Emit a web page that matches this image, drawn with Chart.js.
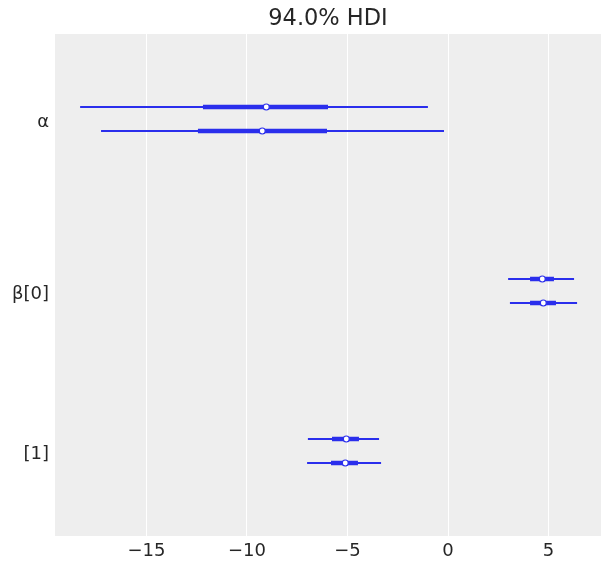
<!DOCTYPE html>
<html>
<head>
<meta charset="utf-8">
<script src="https://cdn.jsdelivr.net/npm/chart.js@4"></script>
<style>
  html, body { margin: 0; padding: 0; background: #fff; }
  #wrap { width: 611px; height: 571px; }
</style>
</head>
<body>
<div id="wrap"><canvas id="forest"></canvas></div>
<script>
// forest plot data: one entry per parameter, two chains each
const params = ['α', 'β[0]', '[1]'];
const medians = [[-9.04, -9.24], [4.69, 4.74], [-5.06, -5.11]];
const hdiLow = [[-18.3, -17.26], [2.99, 3.08], [-6.97, -7.01]];
const hdiHigh = [[-1.0, -0.2], [6.27, 6.42], [-3.43, -3.33]];
const iqrLow = [[-12.19, -12.44], [4.08, 4.08], [-5.77, -5.82]];
const iqrHigh = [[-5.97, -6.02], [5.27, 5.37], [-4.43, -4.48]];
const xTicks = [-15, -10, -5, 0, 5];
const titleText = '94.0% HDI';

const blue = '#2a2eec';

// vertical layout: chains close together, a bit more room between variables
const chainGap = 2.4, coordGap = 13.6, varGap = 14.8;
const newVar = [true, true, false]; // "[1]" continues β
const rowPos = [];
let y = 7.3;
for (let i = params.length - 1; i >= 0; i--) {
    rowPos[i] = [y + chainGap, y];
    if (i > 0) y += chainGap + (newVar[i] ? varGap : coordGap);
}
const labelPos = rowPos.map(r => (r[0] + r[1]) / 2 - 0.35);

const datasets = [];
const medianPts = [];
params.forEach((p, i) => {
    for (let c = 0; c < 2; c++) {
        const yy = rowPos[i][c];
        datasets.push({
            type: 'line',
            data: [{ x: hdiLow[i][c], y: yy }, { x: hdiHigh[i][c], y: yy }],
            borderColor: blue, borderWidth: 2, pointRadius: 0, order: 2
        });
        datasets.push({
            type: 'line',
            data: [{ x: iqrLow[i][c], y: yy }, { x: iqrHigh[i][c], y: yy }],
            borderColor: blue, borderWidth: 4.5, pointRadius: 0, order: 1
        });
        medianPts.push({ x: medians[i][c], y: yy });
    }
});
datasets.push({
    type: 'scatter',
    data: medianPts,
    pointRadius: 3,
    pointBackgroundColor: '#ffffff',
    pointBorderColor: blue,
    pointBorderWidth: 1.2,
    order: 0
});

// grey panel + title centred over the plot area (like matplotlib)
const panelPlugin = {
    id: 'panel',
    beforeDraw(chart) {
        const { ctx, chartArea: a } = chart;
        ctx.save();
        ctx.fillStyle = '#eeeeee';
        ctx.fillRect(a.left, a.top, a.right - a.left, a.bottom - a.top);
        ctx.restore();
    },
    afterDraw(chart) {
        const { ctx, chartArea: a } = chart;
        ctx.save();
        ctx.fillStyle = '#262626';
        ctx.font = '22.5px "DejaVu Sans"';
        ctx.textAlign = 'center';
        ctx.textBaseline = 'middle';
        ctx.fillText(titleText, (a.left + a.right) / 2, 19);
        ctx.restore();
    }
};

new Chart(document.getElementById('forest'), {
    type: 'scatter',
    data: { datasets: datasets },
    plugins: [panelPlugin],
    options: {
        responsive: true,
        maintainAspectRatio: false,
        animation: false,
        layout: { padding: { right: 10, left: 0, bottom: 0, top: 34 } },
        plugins: {
            legend: { display: false },
            tooltip: { enabled: false },
            title: { display: false }
        },
        scales: {
            x: {
                type: 'linear',
                min: -19.55,
                max: 7.61,
                afterBuildTicks(scale) {
                    scale.ticks = xTicks.map(v => ({ value: v }));
                },
                afterFit(scale) { scale.height = 35; },
                grid: { color: '#ffffff', lineWidth: 1, drawTicks: false },
                border: { display: false },
                ticks: {
                    color: '#262626',
                    padding: 5,
                    font: { family: 'DejaVu Sans', size: 18 },
                    callback: v => String(v).replace('-', '\u2212')
                }
            },
            y: {
                type: 'linear',
                min: 0,
                max: 50.2,
                afterBuildTicks(scale) {
                    scale.ticks = labelPos.map(v => ({ value: v }));
                },
                afterFit(scale) { scale.width = 55; },
                grid: { display: false, drawTicks: false },
                border: { display: false },
                ticks: {
                    color: '#262626',
                    padding: 6,
                    font: { family: 'DejaVu Sans', size: 18 },
                    callback: (v, idx) => params[idx]
                }
            }
        }
    }
});
</script>
</body>
</html>
